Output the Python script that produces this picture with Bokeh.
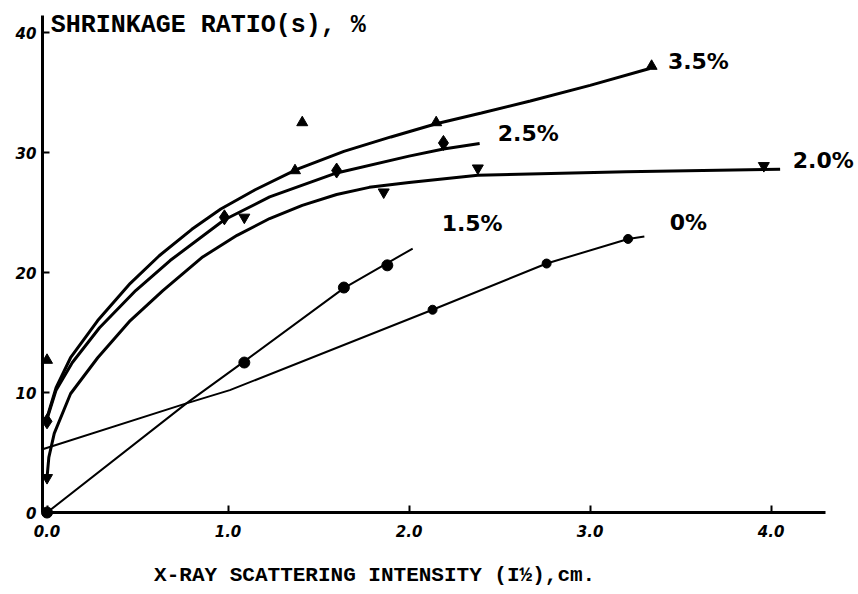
from bokeh.plotting import figure
from bokeh.models import Range1d, FixedTicker, NumeralTickFormatter, Label, LabelSet, ColumnDataSource
from bokeh.core.properties import value
from bokeh.embed import file_html
from bokeh.resources import INLINE

# ---- tick values ----
x_ticks = [0, 1, 2, 3, 4]
y_ticks = [0, 10, 20, 30, 40]

# ---- measured points (x = I^1/2 cm, y = shrinkage %) ----
s35_x = [0.0, 1.37, 1.41, 2.15, 3.34]
s35_y = [12.7, 28.5, 32.5, 32.5, 37.2]
s25_x = [0.0, 0.98, 1.60, 2.19]
s25_y = [7.6, 24.6, 28.5, 30.8]
s20_x = [0.0, 1.09, 1.86, 2.38, 3.96]
s20_y = [2.9, 24.6, 26.7, 28.7, 28.9]
s15_x = [0.0, 1.09, 1.64, 1.88]
s15_y = [0.0, 12.5, 18.75, 20.6]
s0_x = [2.13, 2.76, 3.21]
s0_y = [16.9, 20.75, 22.8]

# ---- hand-drawn curves ----
c35_x = [0.0, 0.05, 0.13, 0.28, 0.46, 0.62, 0.80, 0.96, 1.15, 1.38, 1.64, 1.90, 2.15, 2.40, 2.67, 3.00, 3.33]
c35_y = [7.9, 10.4, 12.9, 16.0, 19.1, 21.4, 23.6, 25.3, 26.9, 28.6, 30.1, 31.3, 32.4, 33.3, 34.3, 35.6, 37.0]
c25_x = [0.0, 0.05, 0.14, 0.29, 0.49, 0.68, 0.98, 1.23, 1.60, 2.00, 2.19, 2.39]
c25_y = [7.8, 10.2, 12.5, 15.4, 18.5, 21.0, 24.4, 26.3, 28.3, 29.7, 30.3, 30.75]
c20_x = [0.0, 0.01, 0.04, 0.13, 0.28, 0.46, 0.64, 0.86, 1.05, 1.23, 1.41, 1.60, 1.78, 2.00, 2.38, 3.20, 4.05]
c20_y = [2.9, 4.6, 6.6, 9.9, 12.9, 16.0, 18.5, 21.3, 23.1, 24.5, 25.6, 26.5, 27.1, 27.5, 28.1, 28.4, 28.6]
c15_x = [0.0, 0.77, 1.09, 1.64, 2.02]
c15_y = [0.0, 9.1, 12.6, 18.7, 22.0]
c0_x = [-0.02, 0.77, 1.01, 2.13, 2.76, 3.21, 3.30]
c0_y = [5.3, 9.1, 10.2, 16.9, 20.75, 22.8, 23.0]

# ---- curve labels ----
lab_text = ["3.5%", "2.5%", "2.0%", "1.5%", "0%"]
lab_x = [3.43, 2.49, 4.12, 2.18, 3.44]
lab_y = [37.6, 31.6, 29.3, 24.1, 24.2]

p = figure(width=858, height=594, output_backend="svg", toolbar_location=None,
           x_range=Range1d(-0.257, 4.483), y_range=Range1d(-6.83, 42.67),
           min_border_left=0, min_border_right=0, min_border_top=0, min_border_bottom=0)
p.outline_line_color = None
p.grid.visible = False
p.background_fill_color = "white"
p.border_fill_color = "white"

for ax in (p.xaxis, p.yaxis):
    ax.axis_line_width = 3
    ax.axis_line_color = "black"
    ax.major_tick_line_width = 2
    ax.major_tick_in = 7
    ax.major_tick_out = 0
    ax.minor_tick_line_color = None
    ax.major_label_text_font = "DejaVu Sans"
    ax.major_label_text_font_style = "bold italic"
    ax.major_label_text_font_size = "15px"
    ax.major_label_text_color = "black"

p.xaxis.fixed_location = 0
p.xaxis.bounds = (-0.025, 4.30)
p.xaxis.ticker = FixedTicker(ticks=x_ticks)
p.xaxis.formatter = NumeralTickFormatter(format="0.0")
p.xaxis.major_label_standoff = 12
p.yaxis.fixed_location = -0.025
p.yaxis.bounds = (0, 41.4)
p.yaxis.ticker = FixedTicker(ticks=y_ticks)
p.yaxis.major_label_standoff = 6

black = "black"
p.line(c35_x, c35_y, line_width=3, color=black)
p.line(c25_x, c25_y, line_width=3, color=black)
p.line(c20_x, c20_y, line_width=3, color=black)
p.line(c15_x, c15_y, line_width=2, color=black)
p.line(c0_x, c0_y, line_width=2, color=black)

p.scatter(s35_x, s35_y, marker="triangle", size=11, color=black)
p.scatter(s25_x, s25_y, marker="diamond", size=15, color=black)
p.scatter(s20_x, s20_y, marker="inverted_triangle", size=11, color=black)
p.scatter(s15_x, s15_y, marker="circle", size=11, color=black)
p.scatter(s0_x, s0_y, marker="circle", size=9, color=black)

src = ColumnDataSource(dict(x=lab_x, y=lab_y, t=lab_text))
p.add_layout(LabelSet(x="x", y="y", text="t", source=src, text_font=value("DejaVu Sans"),
                      text_font_style="bold", text_font_size="22px", text_color="black",
                      text_baseline="middle", text_align="left"))

p.add_layout(Label(x=0.02, y=40.6, text="SHRINKAGE RATIO(s), %", text_font="Liberation Mono",
                   text_font_style="bold", text_font_size="25px", text_baseline="middle",
                   text_align="left", text_color="black"))
p.add_layout(Label(x=1.81, y=-5.25, text="X-RAY SCATTERING INTENSITY (I\u00bd),cm.",
                   text_font="Liberation Mono", text_font_style="bold", text_font_size="21px",
                   text_baseline="middle", text_align="center", text_color="black"))

open("out.html", "w").write(file_html(p, INLINE))
